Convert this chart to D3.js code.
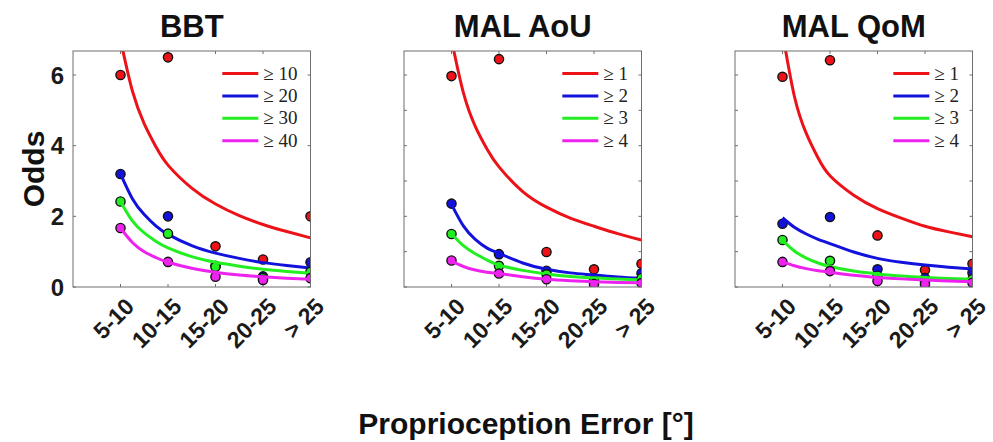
<!DOCTYPE html>
<html>
<head>
<meta charset="utf-8">
<script src="https://cdn.jsdelivr.net/npm/d3@7"></script>
<style>
  body { margin: 0; background: #fff; }
  svg { display: block; }
</style>
</head>
<body>
<script>
const width = 993;
const height = 442;

// x categories and tick labels
const categories = ['5-10', '10-15', '15-20', '20-25', '> 25'];
const panelTitles = ['BBT', 'MAL AoU', 'MAL QoM'];
const legendLabels = [
    ['\u2265 10', '\u2265 20', '\u2265 30', '\u2265 40'],
    ['\u2265 1', '\u2265 2', '\u2265 3', '\u2265 4'],
    ['\u2265 1', '\u2265 2', '\u2265 3', '\u2265 4']
];
const seriesColors = ['#ec1218', '#1212dc', '#22ee22', '#ee22ee'];

// observed odds, one row per threshold (red, blue, green, magenta)
const bbtOdds = [
    [6.0, 6.5, 1.15, 0.78, 2.0],
    [3.2, 2.0, 0.6, 0.3, 0.7],
    [2.42, 1.51, 0.57, 0.25, 0.43],
    [1.67, 0.71, 0.29, 0.2, 0.25]
];
const aouOdds = [
    [5.97, 6.45, 0.99, 0.5, 0.66],
    [2.36, 0.93, 0.46, 0.2, 0.39],
    [1.5, 0.6, 0.36, 0.15, 0.25],
    [0.75, 0.38, 0.22, 0.08, 0.11]
];
const qomOdds = [
    [5.95, 6.42, 1.46, 0.48, 0.66],
    [1.79, 1.98, 0.5, 0.25, 0.4],
    [1.33, 0.74, 0.32, 0.15, 0.22],
    [0.71, 0.45, 0.17, 0.08, 0.12]
];

// fitted curves at these x positions
const fitX = [1, 1.25, 1.5, 1.75, 2, 2.5, 3, 3.5, 4, 4.5, 5];
const bbtFit = [
    [7.0, 5.55, 4.62, 3.96, 3.45, 2.8, 2.35, 2.02, 1.77, 1.57, 1.39],
    [3.2, 2.5, 2.05, 1.72, 1.49, 1.17, 0.96, 0.81, 0.69, 0.61, 0.54],
    [2.42, 1.87, 1.53, 1.29, 1.11, 0.86, 0.7, 0.59, 0.5, 0.44, 0.39],
    [1.67, 1.26, 1.0, 0.83, 0.7, 0.53, 0.42, 0.34, 0.29, 0.25, 0.22]
];
const aouFit = [
    [7.0, 5.5, 4.55, 3.9, 3.4, 2.7, 2.26, 1.95, 1.72, 1.51, 1.33],
    [2.34, 1.73, 1.35, 1.1, 0.95, 0.68, 0.5, 0.4, 0.34, 0.28, 0.24],
    [1.51, 1.17, 0.94, 0.76, 0.62, 0.47, 0.37, 0.3, 0.26, 0.225, 0.2],
    [0.73, 0.58, 0.48, 0.42, 0.38, 0.29, 0.22, 0.18, 0.15, 0.13, 0.12]
];
const qomFit = [
    [7.2, 5.4, 4.35, 3.65, 3.15, 2.6, 2.22, 1.95, 1.72, 1.56, 1.42],
    [1.96, 1.69, 1.5, 1.35, 1.23, 0.99, 0.81, 0.7, 0.62, 0.56, 0.51],
    [1.32, 1.02, 0.82, 0.68, 0.58, 0.45, 0.37, 0.31, 0.27, 0.24, 0.22],
    [0.71, 0.6, 0.52, 0.46, 0.42, 0.33, 0.27, 0.23, 0.2, 0.17, 0.15]
];

const panels = [
    { title: panelTitles[0], odds: bbtOdds, fit: bbtFit, legend: legendLabels[0], left: 73, ticks: [0, 2, 4, 6], labels: true },
    { title: panelTitles[1], odds: aouOdds, fit: aouFit, legend: legendLabels[1], left: 404, ticks: d3.range(0, 7), labels: false },
    { title: panelTitles[2], odds: qomOdds, fit: qomFit, legend: legendLabels[2], left: 735, ticks: d3.range(0, 7), labels: false }
];

const boxW = 237.5;
const plotTop = 51;
const plotBottom = 287;
const axisColor = '#6e6e6e';
const sans = 'Liberation Sans, Arial, sans-serif';

const svg = d3.select('body')
    .append('svg')
    .attr('width', width)
    .attr('height', height);

const y = d3.scaleLinear().domain([0, 6.68]).range([plotBottom, plotTop]);

panels.forEach((p, pi) => {
    const x = d3.scaleLinear().domain([0, 5]).range([p.left, p.left + boxW]);
    const g = svg.append('g');

    const clipId = 'clip' + pi;
    svg.append('clipPath').attr('id', clipId)
        .append('rect')
        .attr('x', p.left).attr('y', plotTop)
        .attr('width', boxW).attr('height', plotBottom - plotTop);

    // ticks (inward, all four sides)
    const tickLen = 3;
    const xTickVals = d3.range(1, 6);
    xTickVals.forEach(v => {
        g.append('line').attr('x1', x(v)).attr('x2', x(v)).attr('y1', plotBottom).attr('y2', plotBottom - tickLen)
            .attr('stroke', axisColor);
        g.append('line').attr('x1', x(v)).attr('x2', x(v)).attr('y1', plotTop).attr('y2', plotTop + tickLen)
            .attr('stroke', axisColor);
    });
    p.ticks.forEach(v => {
        g.append('line').attr('x1', p.left).attr('x2', p.left + tickLen).attr('y1', y(v)).attr('y2', y(v))
            .attr('stroke', axisColor);
        g.append('line').attr('x1', p.left + boxW).attr('x2', p.left + boxW - tickLen).attr('y1', y(v)).attr('y2', y(v))
            .attr('stroke', axisColor);
    });

    // y tick labels (first panel only)
    if (p.labels) {
        g.selectAll('.ylab')
            .data(p.ticks)
            .enter().append('text')
            .attr('x', p.left - 9)
            .attr('y', d => y(d) + 8.5)
            .attr('text-anchor', 'end')
            .style('font-family', sans)
            .style('font-weight', 'bold')
            .style('font-size', '24px')
            .style('fill', '#1a1a1a')
            .text(d => d);
    }

    // x tick labels, rotated
    g.selectAll('.xlab')
        .data(categories)
        .enter().append('text')
        .attr('transform', (d, i) => `translate(${x(i + 1) + 15},${plotBottom + 21}) rotate(-45)`)
        .attr('text-anchor', 'end')
        .style('font-family', sans)
        .style('font-weight', 'bold')
        .style('font-size', '23px')
        .style('fill', '#1a1a1a')
        .text(d => d);

    // title
    g.append('text')
        .attr('x', p.left + boxW / 2)
        .attr('y', 37)
        .attr('text-anchor', 'middle')
        .style('font-family', sans)
        .style('font-weight', 'bold')
        .style('font-size', '31px')
        .style('fill', '#111')
        .text(p.title);

    // data: points then fitted line, per series
    const line = d3.line()
        .x((d, i) => x(fitX[i]))
        .y(d => y(d))
        .curve(d3.curveNatural);

    const plot = g.append('g').attr('clip-path', `url(#${clipId})`);
    p.odds.forEach((row, si) => {
        plot.append('g')
            .selectAll('circle')
            .data(row)
            .enter().append('circle')
            .attr('cx', (d, i) => x(i + 1))
            .attr('cy', d => y(d))
            .attr('r', 4.6)
            .style('fill', seriesColors[si])
            .style('stroke', '#111')
            .style('stroke-width', 1.4);
        plot.append('path')
            .datum(p.fit[si])
            .attr('d', line)
            .style('fill', 'none')
            .style('stroke', seriesColors[si])
            .style('stroke-width', 3);
    });

    // box
    g.append('rect')
        .attr('x', p.left).attr('y', plotTop)
        .attr('width', boxW).attr('height', plotBottom - plotTop)
        .style('fill', 'none')
        .style('stroke', axisColor)
        .style('stroke-width', 1);

    // legend, right aligned near top right corner
    const leg = g.append('g');
    p.legend.forEach((lab, li) => {
        const ly = 73.5 + li * 22.4;
        leg.append('line')
            .attr('x1', 0).attr('x2', 36)
            .attr('y1', ly).attr('y2', ly)
            .style('stroke', seriesColors[li])
            .style('stroke-width', 3);
        leg.append('text')
            .attr('x', 41)
            .attr('y', ly + 6)
            .style('font-family', 'Liberation Serif, DejaVu Serif, serif')
            .style('font-size', '19px')
            .style('fill', '#222')
            .text(lab);
    });
    const bb = leg.node().getBBox();
    leg.attr('transform', `translate(${p.left + boxW - 13 - bb.width},0)`);
});

// y label
svg.append('text')
    .attr('transform', `translate(44,${(plotTop + plotBottom) / 2}) rotate(-90)`)
    .attr('text-anchor', 'middle')
    .style('font-family', sans)
    .style('font-weight', 'bold')
    .style('font-size', '30px')
    .style('fill', '#111')
    .text('Odds');

// x label
svg.append('text')
    .attr('x', 526)
    .attr('y', 434)
    .attr('text-anchor', 'middle')
    .style('font-family', sans)
    .style('font-weight', 'bold')
    .style('font-size', '30px')
    .style('fill', '#111')
    .text('Proprioception Error [\u00b0]');
</script>
</body>
</html>
